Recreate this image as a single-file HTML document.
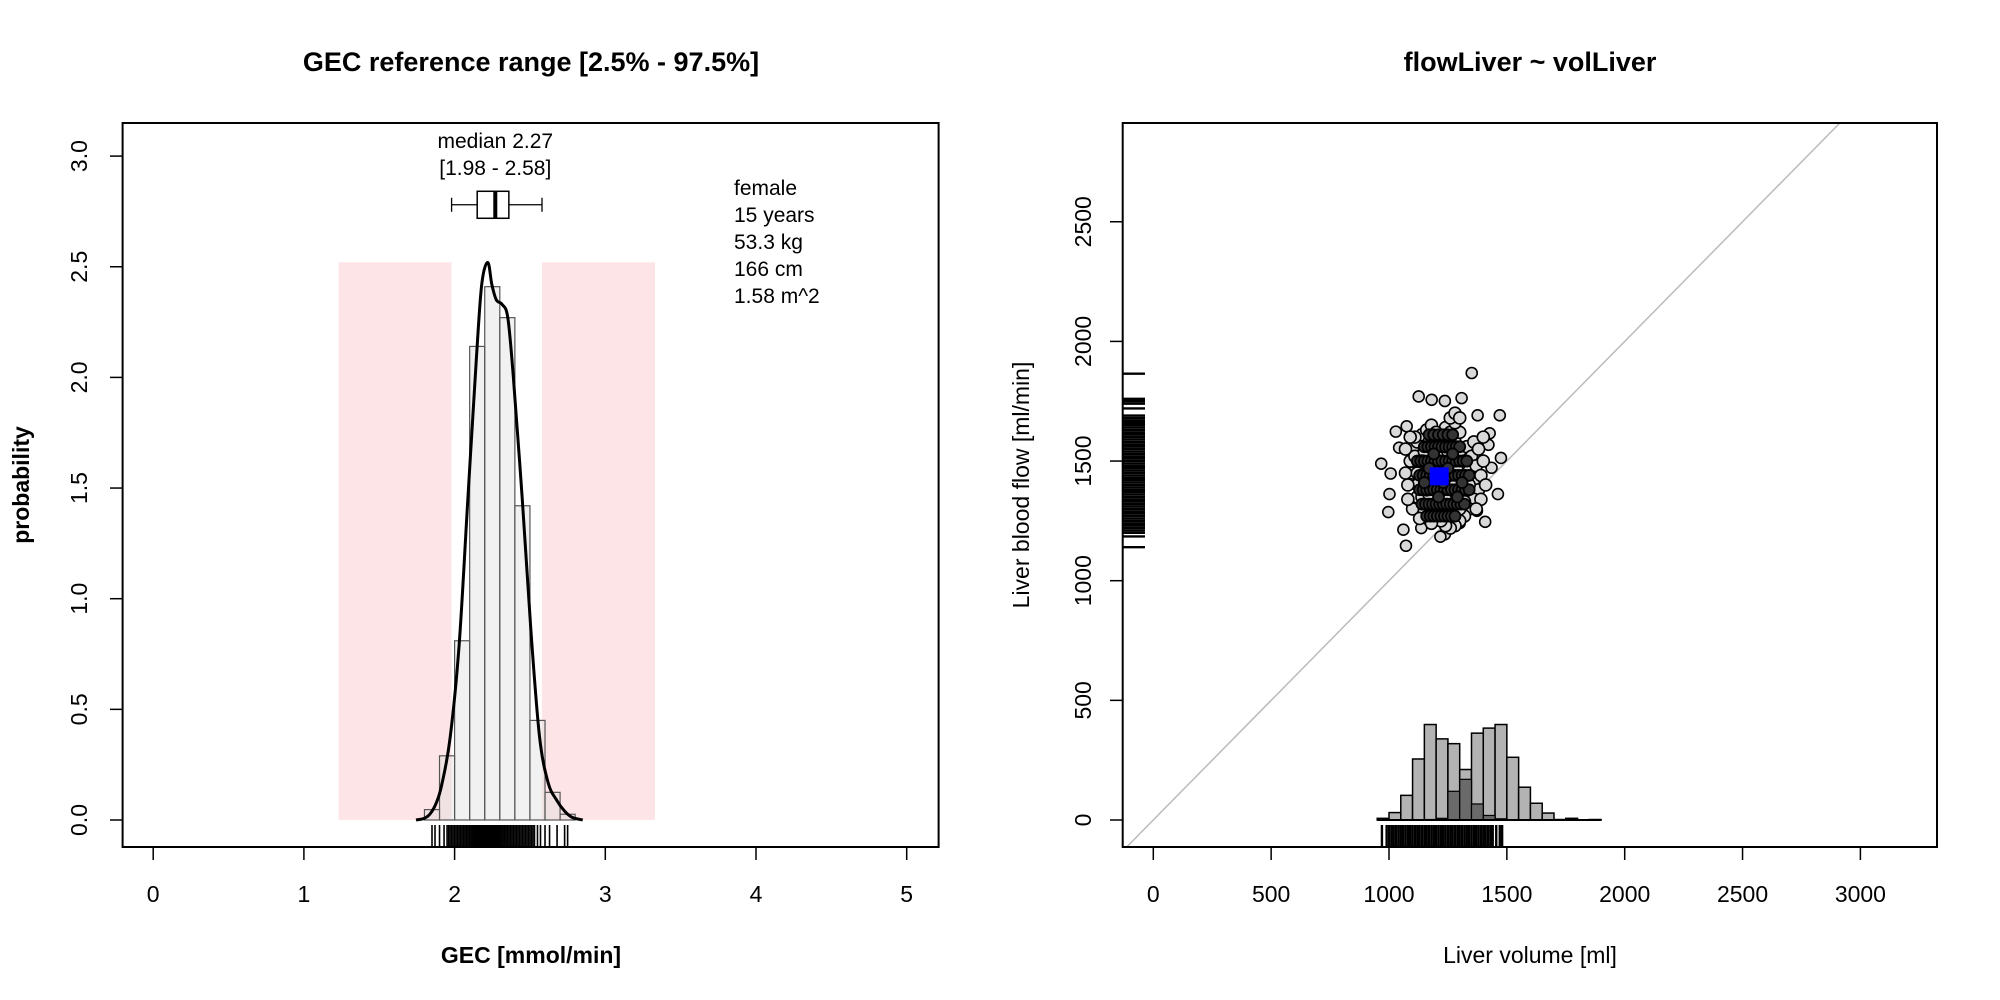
<!DOCTYPE html>
<html><head><meta charset="utf-8"><style>
html,body{margin:0;padding:0;background:#fff}
svg{display:block;font-family:"Liberation Sans",sans-serif}
</style></head><body>
<svg id="c" width="2000" height="1000" viewBox="0 0 2000 1000" xmlns="http://www.w3.org/2000/svg">
<rect x="0" y="0" width="2000" height="1000" fill="#fff"/>
<g id="left"></g>
<g id="right"></g>
</svg>
<script>
// ---- left panel data ----
const gecTicksX = [0,1,2,3,4,5];
const gecTicksY = [0,0.5,1,1.5,2,2.5,3];
const gecTickYLabels = ["0.0","0.5","1.0","1.5","2.0","2.5","3.0"];
const gecBinStarts = [1.8,1.9,2.0,2.1,2.2,2.3,2.4,2.5,2.6,2.7];
const gecBinHeights = [0.047,0.29,0.81,2.14,2.41,2.27,1.42,0.45,0.125,0.026];
const gecDensX = [1.744,1.80,1.84,1.88,1.915,1.97,2.03,2.087,2.144,2.18,2.22,2.247,2.277,2.315,2.353,2.39,2.45,2.506,2.563,2.62,2.677,2.73,2.78,2.85];
const gecDensY = [0,0.008,0.03,0.08,0.16,0.37,0.79,1.44,2.08,2.42,2.52,2.42,2.35,2.33,2.27,2.0,1.44,0.86,0.38,0.17,0.09,0.04,0.012,0];
const gecRange = [1.98,2.58];
const gecBand = [1.23,3.33];
const gecBandTop = 2.52;
const gecBox = [1.98,2.15,2.27,2.36,2.58];
const gecBoxY = 2.78;
const gecRug = [1.85,1.87,1.9,1.93,1.95,1.96,1.97,1.98,1.99,2.0,2.01,2.02,2.03,2.04,2.05,2.06,2.07,2.08,2.09,2.1,2.11,2.12,2.13,2.14,2.15,2.16,2.17,2.18,2.19,2.2,2.21,2.22,2.23,2.24,2.25,2.26,2.27,2.28,2.29,2.3,2.31,2.32,2.33,2.34,2.35,2.36,2.37,2.38,2.39,2.4,2.41,2.42,2.43,2.44,2.45,2.46,2.47,2.48,2.49,2.5,2.51,2.52,2.53,2.55,2.57,2.6,2.63,2.68,2.73,2.75];
const gecInfo = ["female","15 years","53.3 kg","166 cm","1.58 m^2"];
// ---- right panel data ----
const livTicksX = [0,500,1000,1500,2000,2500,3000];
const livTicksY = [0,500,1000,1500,2000,2500];
const volBinStarts = [950,1000,1050,1100,1150,1200,1250,1300,1350,1400,1450,1500,1550,1600,1650,1700,1750,1800,1850];
const volHistA = [7,31,103,255,399,339,319,211,363,384,399,262,137,70,29,2,7,0,2];
const volHistB = [0,0,0,1,2,7,120,170,67,19,5,0,0,0,0,0,0,0,0];
const scatX = [967,1029,1075,1126,1181,1237,1308,1351,1376,1470,1475,1462,1408,1373,1002,997,1061,1072,1237,1427,1422,1435,1007,1043,1367,1300,1137,1218,
1100,1120,1140,1160,1180,1200,1220,1240,1260,1280,1300,1320,1340,1360,1380,1360,1340,1320,1300,1280,1260,1240,1220,1200,1180,1160,1140,1120,1100,1090,1100,1120,1140,1160,1180,1200,1220,1240,1260,1280,1300,1320,1250,1230,1210,1190,1170,1150,1130,1110,1150,1170,1190,1210,1230,1250,1270,1290,1310,1330,1350,1370,1390,1400,1410,1290,1270,1250,1230,1210,1190,1170,1150,1130,1080,1070,1080,1120,1140,1160,1180,1200,1220,1240,1260,1280,1300,1320,1340,1360,1300,1280,1260,1240,1200,1180,1110,1090,1070,1380,1400,1390,1370,1280,1300];
const scatY = [1489,1623,1645,1770,1756,1751,1763,1868,1691,1691,1513,1362,1246,1292,1362,1287,1213,1146,1194,1616,1568,1472,1448,1556,1349,1241,1220,1184,
1300,1350,1400,1450,1500,1550,1600,1640,1620,1580,1540,1500,1460,1420,1380,1340,1300,1270,1250,1230,1220,1230,1250,1270,1290,1320,1350,1400,1450,1500,1550,1580,1610,1630,1650,1620,1520,1480,1440,1400,1360,1330,1300,1330,1360,1390,1420,1460,1490,1520,1540,1580,1600,1440,1410,1380,1350,1320,1420,1560,1520,1480,1440,1500,1400,1460,1500,1540,1570,1500,1460,1360,1290,1260,1400,1450,1340,1450,1500,1380,1420,1400,1380,1340,1280,1290,1300,1380,1400,1580,1620,1660,1680,1560,1320,1240,1600,1600,1550,1550,1600,1340,1300,1700,1680];
const coreX = [1130,1145,1160,1175,1190,1205,1220,1235,1250,1265,1280,1295,1310,1325,1340,1130,1145,1160,1175,1190,1205,1220,1235,1250,1265,1280,1295,1310,1325,1340,1120,1135,1150,1165,1180,1195,1210,1225,1240,1255,1270,1285,1300,1315,1330,1140,1155,1170,1185,1200,1215,1230,1245,1260,1275,1290,1305,1320,1150,1165,1180,1195,1210,1225,1240,1255,1270,1285,1300,1160,1175,1190,1205,1220,1235,1250,1265,1280,1170,1190,1210,1230,1250,1270,1150,1170,1190,1210,1230,1250,1270,1290,1310];
const coreY = [1380,1380,1380,1380,1380,1380,1380,1380,1380,1380,1380,1380,1380,1380,1380,1440,1440,1440,1440,1440,1440,1440,1440,1440,1440,1440,1440,1440,1440,1440,1500,1500,1500,1500,1500,1500,1500,1500,1500,1500,1500,1500,1500,1500,1500,1320,1320,1320,1320,1320,1320,1320,1320,1320,1320,1320,1320,1320,1560,1560,1560,1560,1560,1560,1560,1560,1560,1560,1560,1270,1270,1270,1270,1270,1270,1270,1270,1270,1610,1610,1610,1610,1610,1610,1410,1470,1530,1350,1410,1470,1530,1350,1410];
const meanPoint = [1213,1436];
const flowRug = [1140,1185,1200,1210,1220,1230,1240,1250,1260,1270,1280,1290,1300,1310,1320,1330,1340,1350,1360,1370,1380,1390,1400,1410,1420,1430,1440,1450,1460,1470,1480,1490,1500,1510,1520,1530,1540,1550,1560,1570,1580,1590,1600,1610,1620,1630,1640,1650,1660,1670,1680,1690,1720,1740,1750,1760,1865];
const volRug = [970,990,1000,1010,1020,1030,1040,1050,1060,1070,1080,1090,1100,1110,1120,1130,1140,1150,1160,1170,1180,1190,1200,1210,1220,1230,1240,1250,1260,1270,1280,1290,1300,1310,1320,1330,1340,1350,1360,1370,1380,1390,1400,1410,1420,1430,1440,1455,1470,1480];

const NS="http://www.w3.org/2000/svg";
function mk(parent,tag,attrs,text){const e=document.createElementNS(NS,tag);for(const k in attrs)e.setAttribute(k,attrs[k]);if(text!==undefined)e.textContent=text;parent.appendChild(e);return e;}
function smooth(pts){let d='M'+pts[0][0]+','+pts[0][1];for(let i=0;i<pts.length-1;i++){const p0=pts[i-1]||pts[i],p1=pts[i],p2=pts[i+1],p3=pts[i+2]||p2;d+=' C'+(p1[0]+(p2[0]-p0[0])/6)+','+(p1[1]+(p2[1]-p0[1])/6)+' '+(p2[0]-(p3[0]-p1[0])/6)+','+(p2[1]-(p3[1]-p1[1])/6)+' '+p2[0]+','+p2[1];}return d;}

// ---------- LEFT ----------
const L=document.getElementById('left');
const xs=v=>153.2+v*150.7, ys=v=>820-v*221.3;
let e;
e=mk(L,'rect',{x:xs(gecBand[0]),y:ys(gecBandTop),width:xs(gecRange[0])-xs(gecBand[0]),height:ys(0)-ys(gecBandTop),fill:'#fde4e6'});


e=mk(L,'rect',{x:xs(gecRange[1]),y:ys(gecBandTop),width:xs(gecBand[1])-xs(gecRange[1]),height:ys(0)-ys(gecBandTop),fill:'#fde4e6'});


gecBinStarts.forEach((b,i)=>{
  e=mk(L,'rect',{x:xs(b),y:ys(gecBinHeights[i]),width:xs(b+0.1)-xs(b),height:ys(0)-ys(gecBinHeights[i]),fill:'rgba(225,225,225,0.45)',stroke:'#555','stroke-width':1.2});
  
  
});
e=mk(L,'path',{d:smooth(gecDensX.map((x,i)=>[xs(x),ys(gecDensY[i])])),fill:'none',stroke:'#000','stroke-width':3,'stroke-linejoin':'round'});


gecRug.forEach(v=>{e=mk(L,'line',{x1:xs(v),x2:xs(v),y1:825,y2:847,stroke:'#000','stroke-width':1.6});
  
  });
const by=ys(gecBoxY);
const bp=mk(L,'g',{});


mk(bp,'line',{x1:xs(gecBox[0]),x2:xs(gecBox[1]),y1:by,y2:by,stroke:'#000','stroke-width':1.3});
mk(bp,'line',{x1:xs(gecBox[3]),x2:xs(gecBox[4]),y1:by,y2:by,stroke:'#000','stroke-width':1.3});
mk(bp,'line',{x1:xs(gecBox[0]),x2:xs(gecBox[0]),y1:by-7,y2:by+7,stroke:'#000','stroke-width':1.3});
mk(bp,'line',{x1:xs(gecBox[4]),x2:xs(gecBox[4]),y1:by-7,y2:by+7,stroke:'#000','stroke-width':1.3});
mk(bp,'rect',{x:xs(gecBox[1]),y:by-13.5,width:xs(gecBox[3])-xs(gecBox[1]),height:27,fill:'#fff',stroke:'#000','stroke-width':1.5});
mk(bp,'line',{x1:xs(gecBox[2]),x2:xs(gecBox[2]),y1:by-13.5,y2:by+13.5,stroke:'#000','stroke-width':4});
e=mk(L,'text',{x:xs(gecBox[2]),y:148,'text-anchor':'middle','font-size':21},'median 2.27');


e=mk(L,'text',{x:xs(gecBox[2]),y:175,'text-anchor':'middle','font-size':21},'[1.98 - 2.58]');


gecInfo.forEach((t,i)=>{e=mk(L,'text',{x:734,y:195+i*27,'font-size':21},t);
  
  });
e=mk(L,'rect',{x:122.6,y:123,width:816,height:724,fill:'none',stroke:'#000','stroke-width':2});


gecTicksX.forEach(v=>{mk(L,'line',{x1:xs(v),x2:xs(v),y1:847,y2:860,stroke:'#000','stroke-width':1.5});
  e=mk(L,'text',{x:xs(v),y:902,'text-anchor':'middle','font-size':23},String(v));
  
  });
gecTicksY.forEach((v,i)=>{mk(L,'line',{x1:122.6,x2:110,y1:ys(v),y2:ys(v),stroke:'#000','stroke-width':1.5});
  e=mk(L,'text',{x:0,y:0,'text-anchor':'middle','font-size':23,transform:`translate(87,${ys(v)}) rotate(-90)`},gecTickYLabels[i]);
  
  });
e=mk(L,'text',{x:531,y:71,'text-anchor':'middle','font-size':27,'font-weight':'bold'},'GEC reference range [2.5% - 97.5%]');


e=mk(L,'text',{x:531,y:963,'text-anchor':'middle','font-size':23,'font-weight':'bold'},'GEC [mmol/min]');


e=mk(L,'text',{x:0,y:0,'text-anchor':'middle','font-size':23,'font-weight':'bold',transform:'translate(29,485) rotate(-90)'},'probability');



// ---------- RIGHT ----------
const R=document.getElementById('right');
const xr=v=>1153.3+v*0.2357, yr=v=>820-v*0.2393;
const cp=mk(R,'clipPath',{id:'rc'});
mk(cp,'rect',{x:1122.7,y:123,width:814.3,height:724});
e=mk(R,'line',{x1:xr(-200),y1:yr(-200),x2:xr(3400),y2:yr(3400),stroke:'#bbb','stroke-width':1.5,'clip-path':'url(#rc)'});


volBinStarts.forEach((b,i)=>{
  if(volHistA[i]>0){e=mk(R,'rect',{x:xr(b),y:yr(volHistA[i]),width:xr(b+50)-xr(b),height:yr(0)-yr(volHistA[i]),fill:'#b3b3b3',stroke:'#000','stroke-width':1.5});
  
  }
});
volBinStarts.forEach((b,i)=>{
  if(volHistB[i]>0){e=mk(R,'rect',{x:xr(b),y:yr(volHistB[i]),width:xr(b+50)-xr(b),height:yr(0)-yr(volHistB[i]),fill:'#6a6a6a',stroke:'#000','stroke-width':1.2});
  
  }
});
mk(R,'line',{x1:xr(950),x2:xr(1900),y1:yr(0),y2:yr(0),stroke:'#000','stroke-width':2});
flowRug.forEach(v=>{e=mk(R,'line',{x1:1122.7,x2:1145,y1:yr(v),y2:yr(v),stroke:'#000','stroke-width':2.4});
  
  });
volRug.forEach(v=>{e=mk(R,'line',{x1:xr(v),x2:xr(v),y1:825,y2:847,stroke:'#000','stroke-width':2.4});
  
  });
scatX.forEach((x,i)=>{
  e=mk(R,'circle',{cx:xr(x),cy:yr(scatY[i]),r:i<28?5.5:6,fill:'#d9d9d9',stroke:'#000','stroke-width':1.6});
  
  
});
coreX.forEach((x,i)=>{
  e=mk(R,'circle',{cx:xr(x),cy:yr(coreY[i]),r:5.5,fill:'#333',stroke:'#000','stroke-width':1.8});
  
  
});
e=mk(R,'rect',{x:xr(meanPoint[0])-9.5,y:yr(meanPoint[1])-9,width:19,height:18,fill:'#0000ff'});


e=mk(R,'rect',{x:1122.7,y:123,width:814.3,height:724,fill:'none',stroke:'#000','stroke-width':2});


livTicksX.forEach(v=>{mk(R,'line',{x1:xr(v),x2:xr(v),y1:847,y2:860,stroke:'#000','stroke-width':1.5});
  e=mk(R,'text',{x:xr(v),y:902,'text-anchor':'middle','font-size':23},String(v));
  
  });
livTicksY.forEach(v=>{mk(R,'line',{x1:1122.7,x2:1110,y1:yr(v),y2:yr(v),stroke:'#000','stroke-width':1.5});
  e=mk(R,'text',{x:0,y:0,'text-anchor':'middle','font-size':23,transform:`translate(1091,${yr(v)}) rotate(-90)`},String(v));
  
  });
e=mk(R,'text',{x:1530,y:71,'text-anchor':'middle','font-size':27,'font-weight':'bold'},'flowLiver ~ volLiver');


e=mk(R,'text',{x:1530,y:963,'text-anchor':'middle','font-size':23},'Liver volume [ml]');


e=mk(R,'text',{x:0,y:0,'text-anchor':'middle','font-size':23,transform:'translate(1029,485) rotate(-90)'},'Liver blood flow [ml/min]');


</script>
</body></html>
